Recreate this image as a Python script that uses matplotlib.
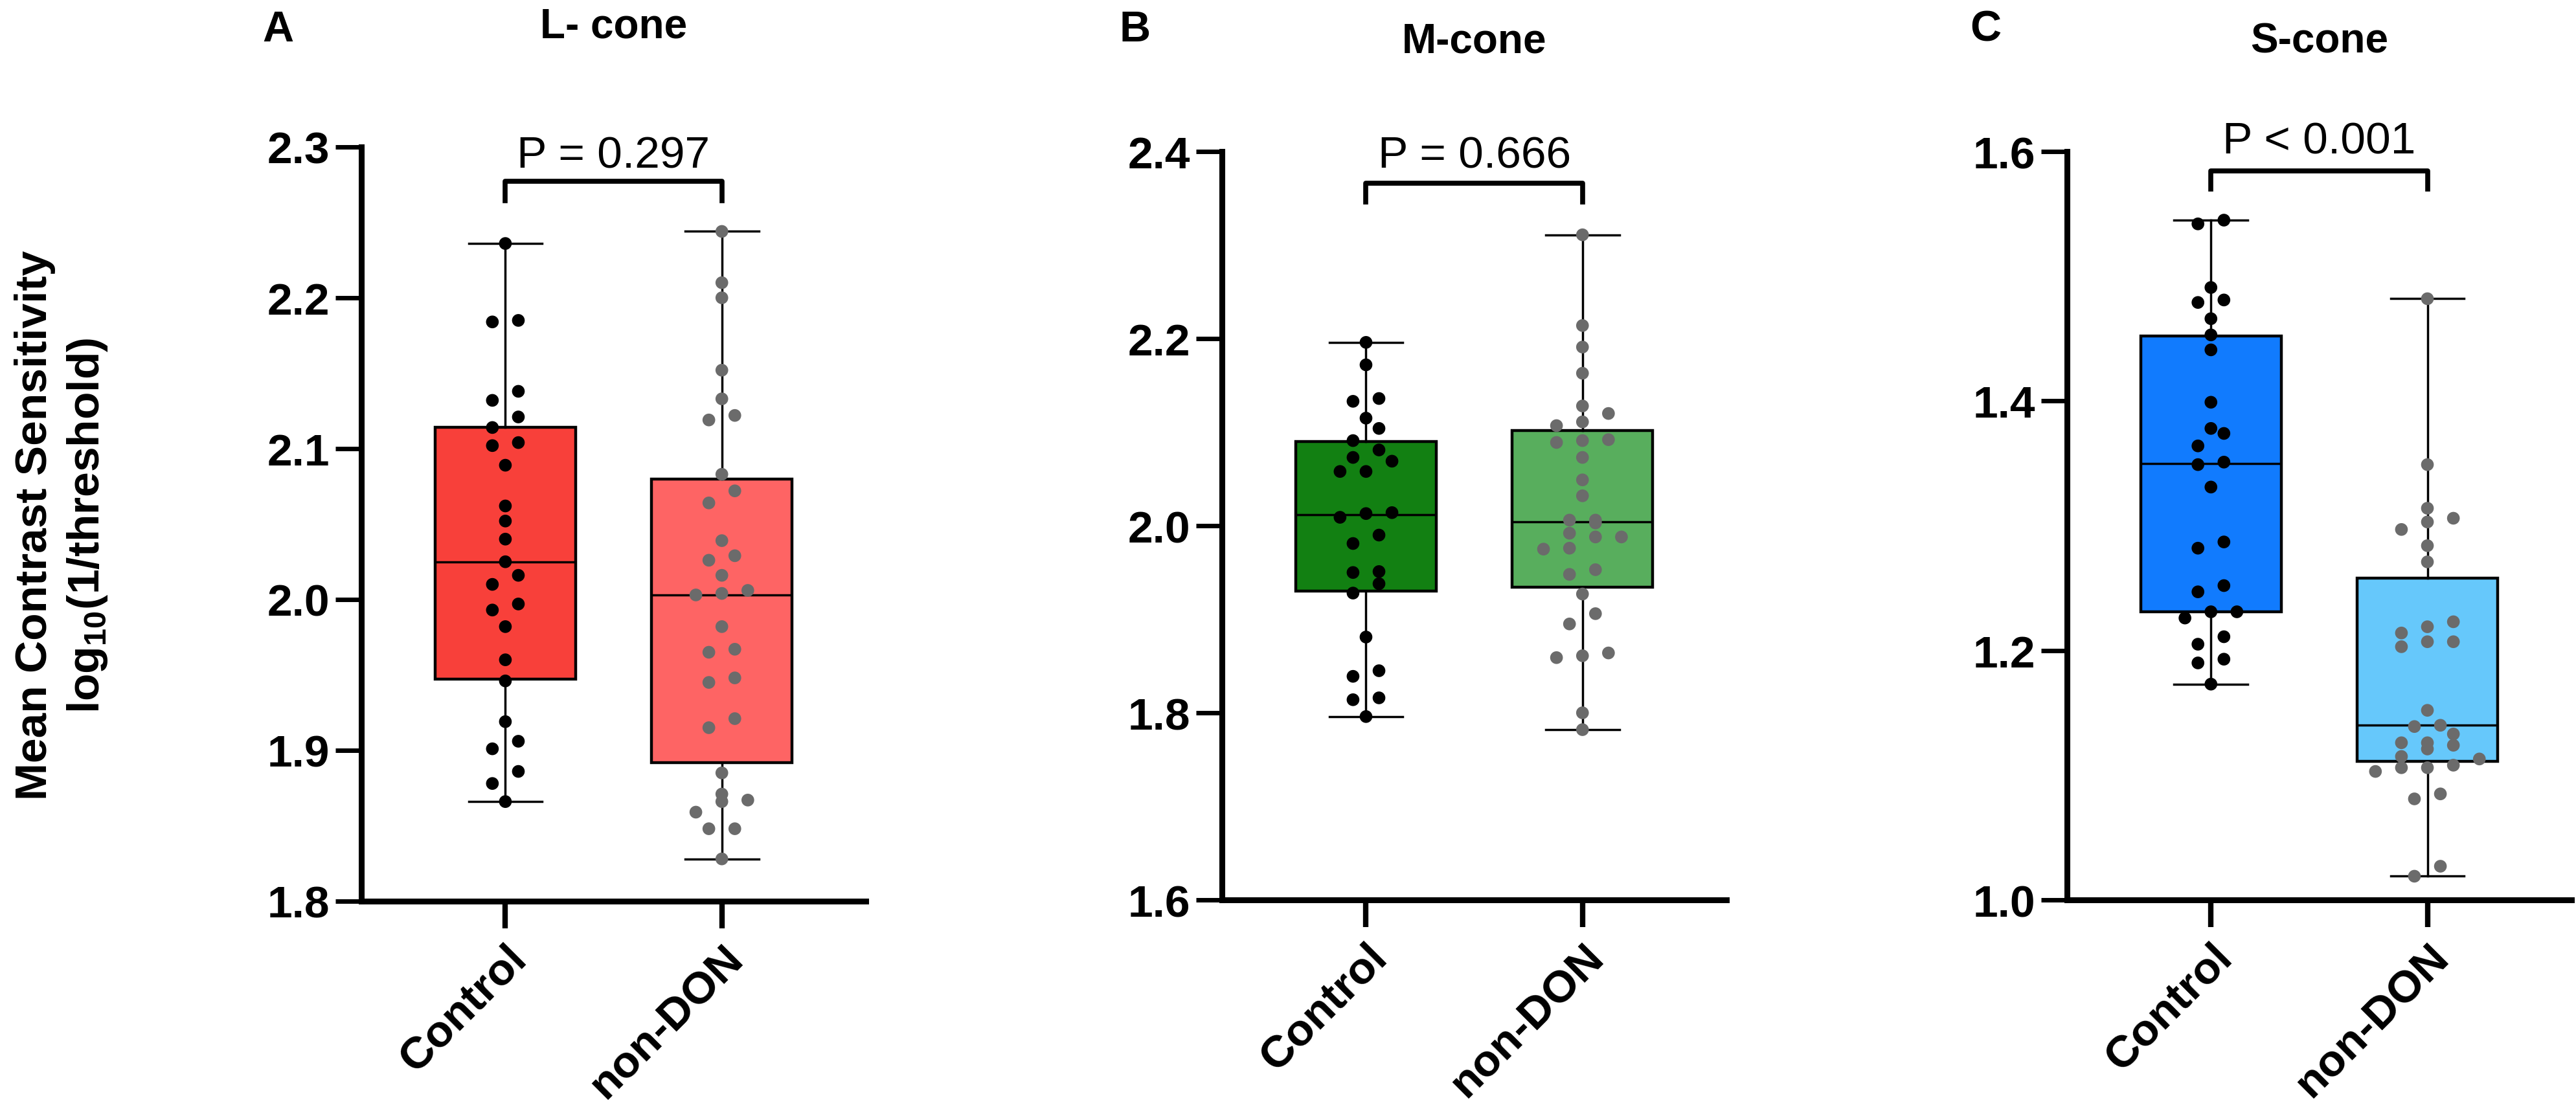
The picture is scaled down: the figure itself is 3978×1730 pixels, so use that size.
import numpy as np
import matplotlib
matplotlib.use("Agg")
import matplotlib.pyplot as plt
from matplotlib.ticker import FormatStrFormatter
from matplotlib.transforms import blended_transform_factory

plt.rcParams['font.family'] = ['Liberation Sans', 'DejaVu Sans']
plt.rcParams['font.weight'] = 'bold'
plt.rcParams['mathtext.fontset'] = 'custom'
plt.rcParams['mathtext.rm'] = 'Liberation Sans:bold'

groups = ['Control', 'non-DON']
titles = ['L- cone', 'M-cone', 'S-cone']
letters = ['A', 'B', 'C']
p_labels = ['P = 0.297', 'P = 0.666', 'P < 0.001']

# values (log10 contrast sensitivity)
l_control = [2.236, 2.185, 2.184, 2.138, 2.132, 2.121, 2.114, 2.104, 2.102, 2.089, 2.062,
             2.052, 2.040, 2.025, 2.016, 2.010, 1.997, 1.993, 1.982, 1.960, 1.946, 1.919,
             1.906, 1.901, 1.886, 1.878, 1.866]
l_nondon = [2.244, 2.210, 2.200, 2.152, 2.133, 2.122, 2.119, 2.083, 2.072, 2.064, 2.039,
            2.029, 2.026, 2.016, 2.006, 2.004, 2.003, 1.982, 1.967, 1.965, 1.948, 1.945,
            1.921, 1.915, 1.885, 1.871, 1.867, 1.866, 1.859, 1.848, 1.848, 1.828]
m_control = [2.196, 2.172, 2.136, 2.133, 2.115, 2.104, 2.091, 2.081, 2.073, 2.069, 2.058,
             2.058, 2.014, 2.013, 2.009, 1.990, 1.981, 1.951, 1.950, 1.938, 1.928, 1.881,
             1.845, 1.839, 1.816, 1.814, 1.796]
m_nondon = [2.311, 2.214, 2.191, 2.163, 2.128, 2.120, 2.111, 2.107, 2.092, 2.091, 2.089,
            2.073, 2.049, 2.032, 2.006, 2.006, 2.003, 1.992, 1.988, 1.988, 1.976, 1.975,
            1.953, 1.948, 1.927, 1.906, 1.895, 1.864, 1.861, 1.859, 1.800, 1.782]
s_control = [1.545, 1.542, 1.491, 1.481, 1.479, 1.466, 1.453, 1.441, 1.399, 1.378, 1.374,
             1.364, 1.351, 1.349, 1.331, 1.287, 1.282, 1.252, 1.247, 1.231, 1.231, 1.226,
             1.211, 1.205, 1.193, 1.190, 1.173]
s_nondon = [1.482, 1.349, 1.314, 1.306, 1.303, 1.297, 1.284, 1.271, 1.223, 1.219, 1.214,
            1.207, 1.207, 1.203, 1.152, 1.140, 1.139, 1.133, 1.126, 1.126, 1.124, 1.121,
            1.115, 1.113, 1.108, 1.106, 1.106, 1.103, 1.085, 1.081, 1.027, 1.019]

# (q1, median, q3) per group
l_box = [(1.947, 2.025, 2.114), (1.892, 2.003, 2.080)]
m_box = [(1.930, 2.012, 2.090), (1.934, 2.004, 2.102)]
s_box = [(1.231, 1.350, 1.452), (1.111, 1.140, 1.258)]

panel_data = [(l_control, l_nondon), (m_control, m_nondon), (s_control, s_nondon)]
panel_box = [l_box, m_box, s_box]
yaxes = [(1.8, 2.3, 0.1), (1.6, 2.4, 0.2), (1.0, 1.6, 0.2)]

box_colors = [['#F8403A', '#FE6464'], ['#128012', '#58AE5D'], ['#117BFE', '#66C8FB']]
dot_colors = ['black', '#6B6B6B']


def swarm(vals, bin_h, step=0.12):
    # GraphPad-like: bin by value, spread each bin sideways
    vals = np.asarray(vals)
    order = np.argsort(vals)
    rows = []
    for i in order:
        if rows and vals[i] - vals[rows[-1][0]] < bin_h:
            rows[-1].append(i)
        else:
            rows.append([i])
    offs = np.zeros(len(vals))
    for r in rows:
        k = len(r)
        for j, i in enumerate(r):
            offs[i] = (j - (k - 1) / 2) * step
    return offs


fig = plt.figure(figsize=(39.78, 17.31), dpi=100)

lefts = [0.1403, 0.4744, 0.8024]
bottoms = [0.1953, 0.1964, 0.1964]
heights = [0.673, 0.6678, 0.6678]
title_y = [0.976, 0.963, 0.963]
letter_x = [0.102, 0.4346, 0.7647]
p_y = [0.973, 0.979, 0.998]
br_y = [(0.9545, 0.929), (0.958, 0.933), (0.974, 0.950)]

for k in range(3):
    ax = fig.add_axes([lefts[k], bottoms[k], 0.1958, heights[k]])
    ymin, ymax, ystep = yaxes[k]
    stats = []
    for g in range(2):
        q1, med, q3 = panel_box[k][g]
        v = panel_data[k][g]
        stats.append(dict(q1=q1, med=med, q3=q3, whislo=min(v), whishi=max(v), fliers=[]))
    bp = ax.bxp(stats, positions=[0, 1], widths=0.65, capwidths=0.34, patch_artist=True,
                showfliers=False,
                boxprops=dict(linewidth=3.2, edgecolor='black'),
                whiskerprops=dict(linewidth=2.5, color='black'),
                capprops=dict(linewidth=2.5, color='black'),
                medianprops=dict(linewidth=2.5, color='black'))
    for g, patch in enumerate(bp['boxes']):
        patch.set_facecolor(box_colors[k][g])

    bin_h = 0.0172 * (ymax - ymin)
    for g in range(2):
        v = np.array(panel_data[k][g])
        ax.scatter(g + swarm(v, bin_h), v, s=200, color=dot_colors[g],
                   edgecolors='none', zorder=5)

    ax.set_xlim(-0.665, 1.665)
    ax.set_ylim(ymin, ymax)
    ax.set_yticks(np.arange(ymin, ymax + ystep / 2, ystep))
    ax.yaxis.set_major_formatter(FormatStrFormatter('%.1f'))
    ax.set_xticks([0, 1])
    ax.set_xticklabels(groups, rotation=45, ha='right', rotation_mode='anchor')
    for s in ['top', 'right']:
        ax.spines[s].set_visible(False)
    for s in ['left', 'bottom']:
        ax.spines[s].set_linewidth(6.5)
    ax.tick_params(axis='y', length=29, width=5, pad=6, labelsize=50)
    ax.tick_params(axis='x', length=30, width=6, pad=10, labelsize=50)

    tr = blended_transform_factory(ax.transData, ax.transAxes)
    top, leg = br_y[k]
    ax.plot([0, 0, 1, 1], [leg, top, top, leg], color='black', lw=5.5,
            transform=tr, clip_on=False)
    ax.text(0.5, p_y[k], p_labels[k], transform=tr, ha='center', va='baseline',
            fontsize=50, fontweight='normal')

    cx = lefts[k] + 0.1958 / 2
    fig.text(cx, title_y[k], titles[k], ha='center', va='center', fontsize=46)
    fig.text(letter_x[k], 0.973, letters[k], ha='left', va='center', fontsize=48)

fig.text(0.024, 0.531, 'Mean Contrast Sensitivity\nlog$_{10}$(1/threshold)', rotation=90,
         ha='center', va='center', fontsize=50, linespacing=1.3)

fig.savefig('out.png', dpi=100)
